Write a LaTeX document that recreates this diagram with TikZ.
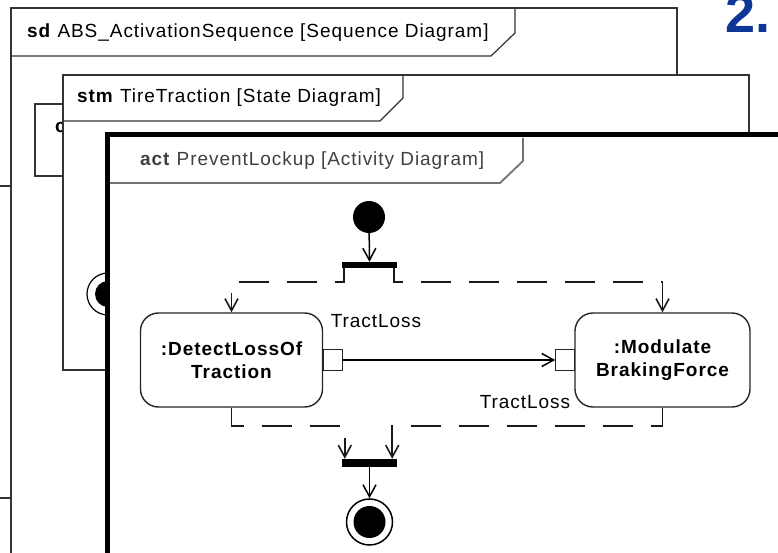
\documentclass[tikz,border=0pt]{standalone}
\usepackage{fontspec}
\newfontfamily\umlfont{Liberation Sans}[LetterSpace=5]
\newfontfamily\numfont{Liberation Sans}
\usepackage{tikz}
\usetikzlibrary{arrows.meta,positioning}
\definecolor{framegray}{RGB}{51,51,51}
\definecolor{numblue}{RGB}{14,54,150}

\begin{document}
\begin{tikzpicture}[x=1pt,y=1pt,
    >={Straight Barb[length=12pt,width=13pt]},
    every node/.style={font=\umlfont\fontsize{19}{23}\selectfont},
    frameline/.style={draw=framegray,line width=1.2pt,fill=white},
    title/.style={anchor=base west,inner sep=0pt},
    action/.style={draw=black!85,line width=1.4pt,rounded corners=18pt,align=center,
      font=\umlfont\bfseries\fontsize{19}{23}\selectfont,inner sep=0pt},
    pinbox/.style={draw=black!85,line width=1.4pt,minimum width=19pt,minimum height=21pt,
      inner sep=0pt,outer sep=0pt,fill=white},
    bar/.style={fill=black,minimum width=55pt,minimum height=6pt,inner sep=0pt},
    flow/.style={->,line width=1.5pt},
    ctrlflow/.style={->,line width=1.6pt,dash pattern=on 30pt off 18pt,draw=black!90}]
   \useasboundingbox (0,0) rectangle (778,-553);
   \clip (0,0) rectangle (778,-553);

   % sequence diagram frame
   \draw[frameline] (11,-8) rectangle (677,-600);
   \draw[framegray,line width=1.2pt] (11,-56) -- (491,-56) -- (515,-33) -- (515,-8);
   \draw (27,-38) node[title] (sdtitle) {\textbf{sd} ABS\_ActivationSequence [Sequence Diagram]};
   \draw[framegray,line width=1.2pt] (35,-104) rectangle (120,-176);
   \draw (55,-133) node[title] (lifeline) {\textbf{c}};
   \draw[framegray,line width=1.2pt] (0,-186) -- (11,-186);
   \draw[framegray,line width=1.2pt] (0,-498) -- (11,-498);

   % state diagram frame
   \draw[frameline] (63,-75) rectangle (749,-370);
   \draw[framegray,line width=1.2pt] (63,-121) -- (380,-121) -- (403,-98) -- (403,-75);
   \draw (77,-103) node[title] (stmtitle) {\textbf{stm} TireTraction [State Diagram]};
   \draw[line width=1.2pt,fill=white] (108,-294) circle (21pt);
   \fill (108,-294) circle (13pt);

   % activity diagram frame
   \draw[line width=5pt,fill=white] (107,-135) rectangle (800,-600);
   \draw[black!55,line width=1.8pt] (110,-183) -- (500,-183) -- (523,-161) -- (523,-138);
   \draw (140,-166) node[title,text=black!75] (acttitle) {\textbf{act} PreventLockup [Activity Diagram]};

   \draw (369,-217) node[circle,fill=black,minimum size=32pt,inner sep=0pt] (init) {};
   \draw (369.5,-265) node[bar] (fork) {};
   \draw (231.5,-360) node[action,minimum width=182pt,minimum height=94pt] (detect) {:DetectLossOf\\Traction};
   \draw (662.5,-360) node[action,minimum width=175pt,minimum height=94pt] (modulate) {:Modulate\\BrakingForce};
   \node[pinbox,right=0pt of detect] (outpin) {};
   \node[pinbox,left=0pt of modulate] (inpin) {};
   \draw (369.5,-463) node[bar,minimum height=8pt] (join) {};
   \draw (369.5,-522) node[circle,draw,line width=1.5pt,minimum size=46pt,inner sep=0pt] (final) {};
   \fill (final) circle (16pt);

   \draw (376,-321) node (outlabel) {TractLoss};
   \draw (525,-402) node (inlabel) {TractLoss};

   \path[flow] (init) edge (fork);
   \path[flow] (outpin) edge (inpin);
   \path[flow] (join) edge (final);
   \draw[ctrlflow,dash phase=7pt] ([xshift=2pt]fork.south west) -- ++(0,-14) -| (detect.north);
   \draw[ctrlflow,dash phase=7pt] ([xshift=-3pt]fork.south east) -- ++(0,-14) -| (modulate.north);
   \draw[ctrlflow] (detect.south) -- ++(0,-18) -| ([xshift=3pt]join.north west);
   \draw[ctrlflow] (modulate.south) -- ++(0,-18) -| ([xshift=-5pt]join.north east);

   \draw (725,-33) node[anchor=base west,inner sep=0pt,text=numblue,
     font=\numfont\bfseries\fontsize{54}{54}\selectfont] (stepnum) {2.};
\end{tikzpicture}
\end{document}
